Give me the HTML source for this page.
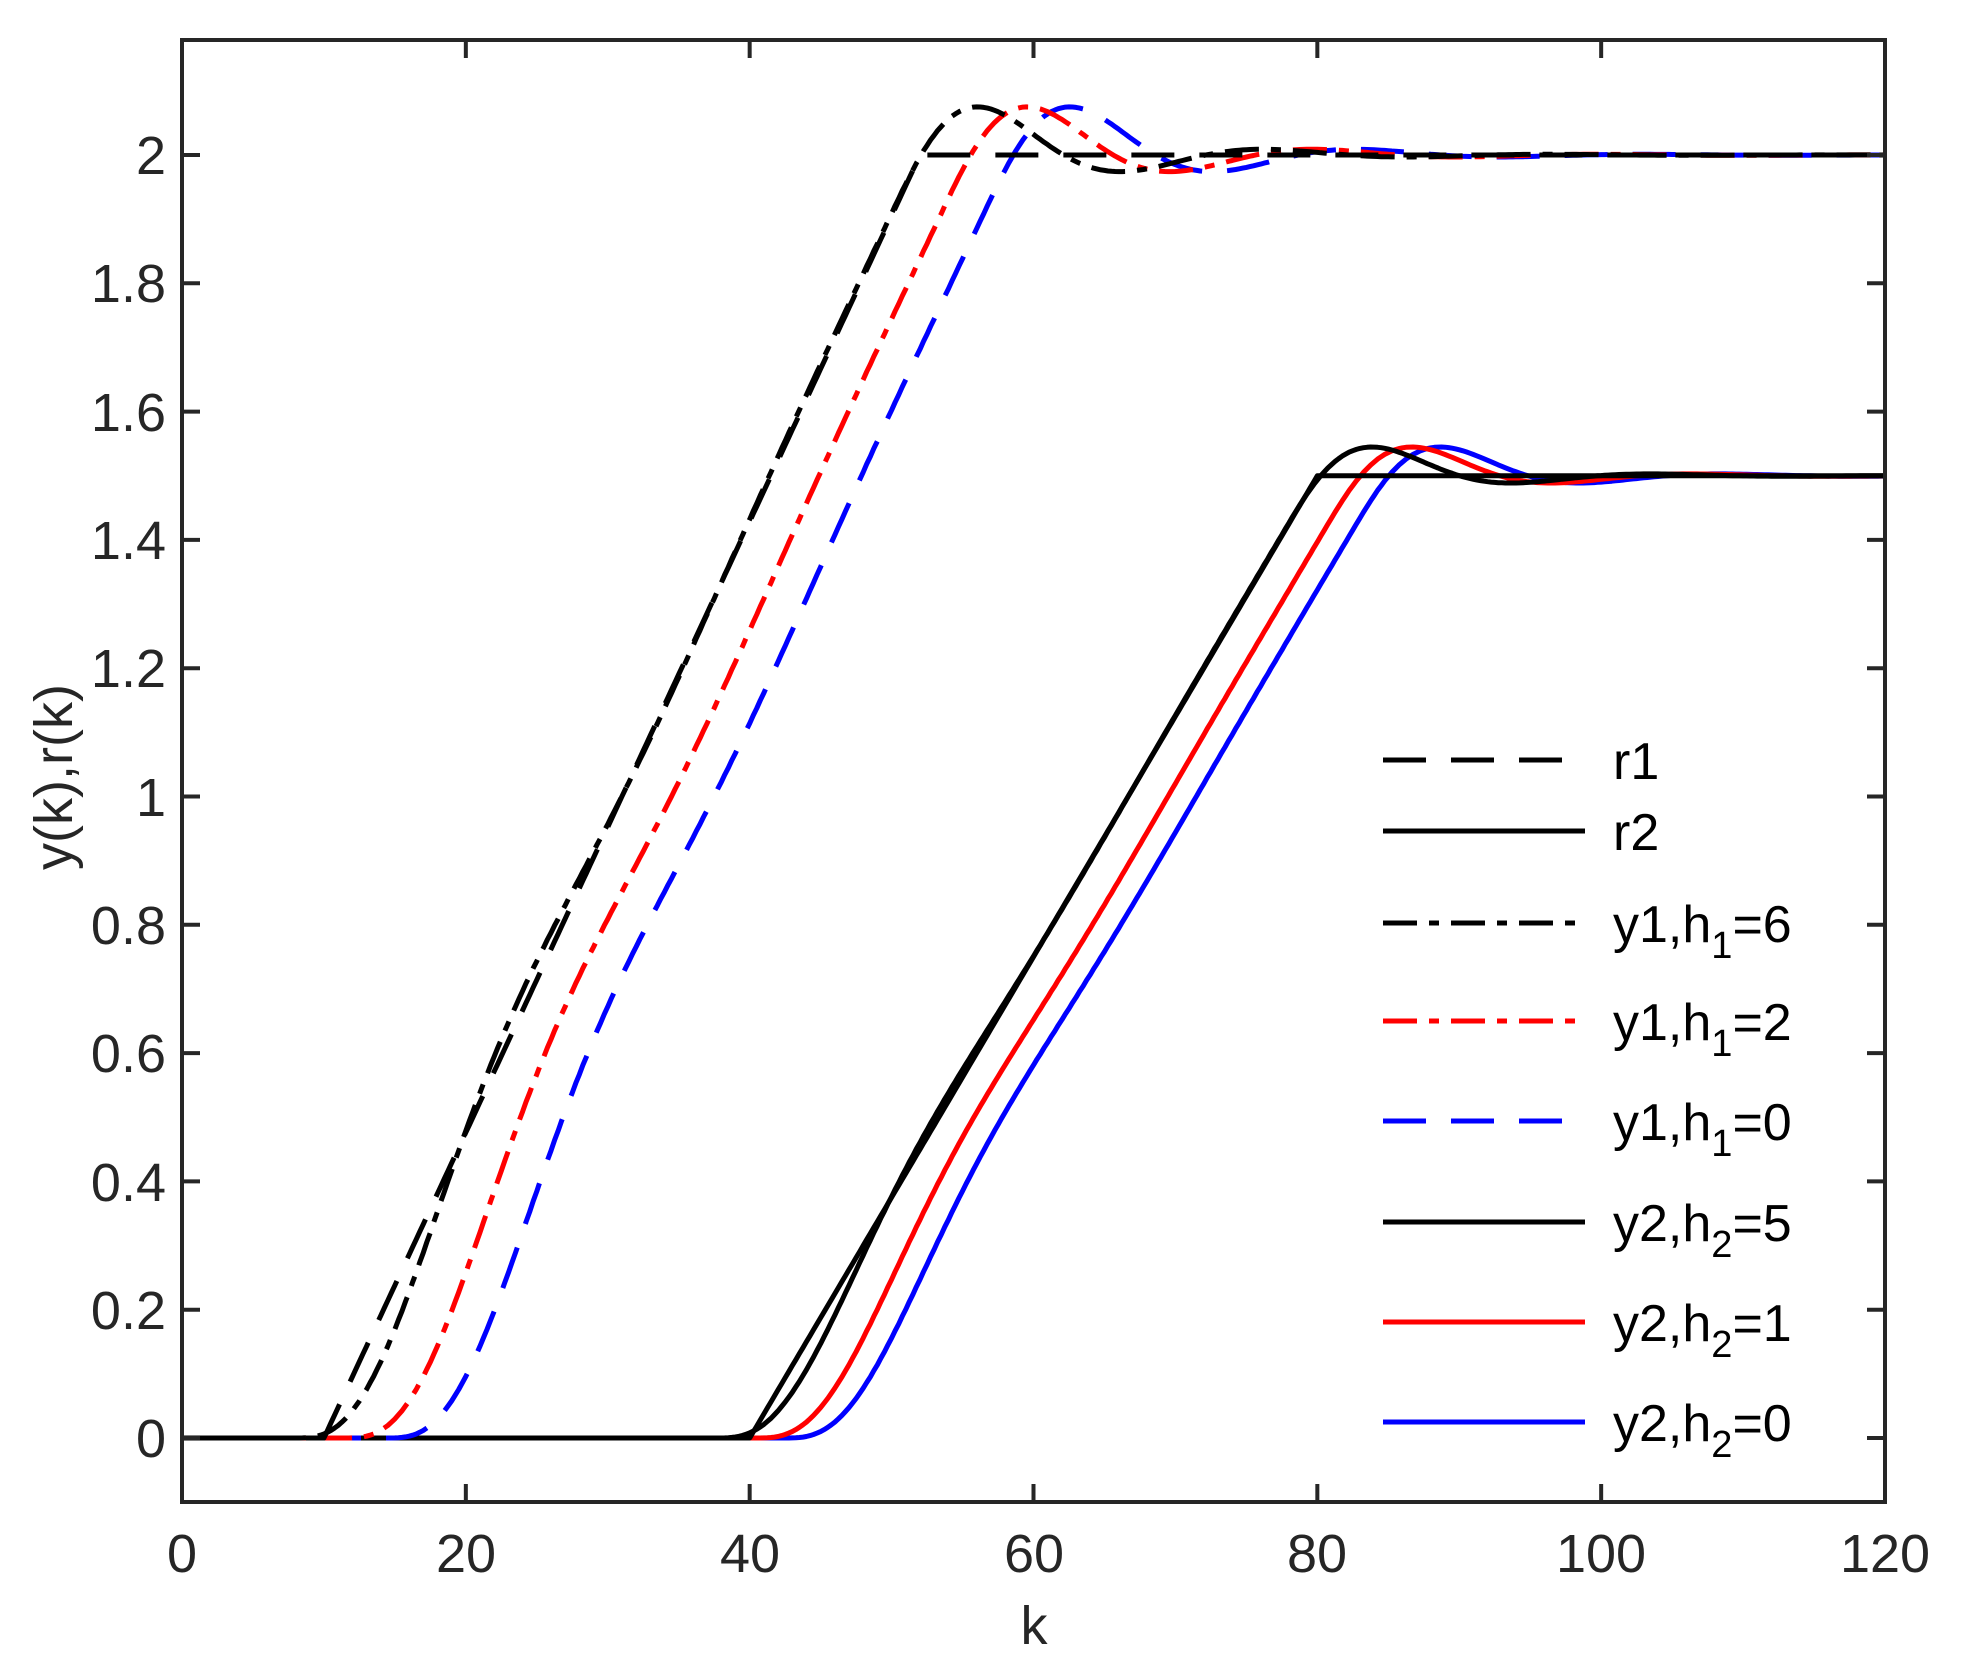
<!DOCTYPE html>
<html><head><meta charset="utf-8"><style>
body{margin:0;background:#fff}
svg text{font-family:"Liberation Sans",Arial,sans-serif;fill:#262626}
</style></head><body>
<svg id="s" width="1963" height="1665" viewBox="0 0 1963 1665" xmlns="http://www.w3.org/2000/svg">
<rect width="1963" height="1665" fill="#fff"/>
<g id="curves" fill="none" stroke-width="5" stroke-linejoin="round"></g>
<g id="axes" stroke="#262626" stroke-width="4" fill="none"></g>
<g font-size="54" text-anchor="end" id="ylab">
<text x="166" y="1457">0</text>
<text x="166" y="1329">0.2</text>
<text x="166" y="1201">0.4</text>
<text x="166" y="1072">0.6</text>
<text x="166" y="944">0.8</text>
<text x="166" y="816">1</text>
<text x="166" y="687">1.2</text>
<text x="166" y="559">1.4</text>
<text x="166" y="431">1.6</text>
<text x="166" y="302">1.8</text>
<text x="166" y="174">2</text>
</g>
<g font-size="54" text-anchor="middle">
<text x="182" y="1572">0</text>
<text x="466" y="1572">20</text>
<text x="750" y="1572">40</text>
<text x="1034" y="1572">60</text>
<text x="1317" y="1572">80</text>
<text x="1601" y="1572">100</text>
<text x="1885" y="1572">120</text>
<text x="1034" y="1644">k</text>
<text transform="translate(72,777) rotate(-90)">y(k),r(k)</text>
</g>
<g font-size="52">
<text x="1613" y="779" style="fill:#000">r1</text>
<text x="1613" y="850" style="fill:#000">r2</text>
<text x="1613" y="942" style="fill:#000">y1,h<tspan font-size="38" dy="16">1</tspan><tspan dy="-16">=6</tspan></text>
<text x="1613" y="1040" style="fill:#000">y1,h<tspan font-size="38" dy="16">1</tspan><tspan dy="-16">=2</tspan></text>
<text x="1613" y="1140" style="fill:#000">y1,h<tspan font-size="38" dy="16">1</tspan><tspan dy="-16">=0</tspan></text>
<text x="1613" y="1241" style="fill:#000">y2,h<tspan font-size="38" dy="16">2</tspan><tspan dy="-16">=5</tspan></text>
<text x="1613" y="1341" style="fill:#000">y2,h<tspan font-size="38" dy="16">2</tspan><tspan dy="-16">=1</tspan></text>
<text x="1613" y="1441" style="fill:#000">y2,h<tspan font-size="38" dy="16">2</tspan><tspan dy="-16">=0</tspan></text>
</g>
<g stroke-width="5">
<line x1="1383" y1="760" x2="1585" y2="760" stroke="#000" stroke-dasharray="43 25"/>
<line x1="1383" y1="831" x2="1585" y2="831" stroke="#000"/>
<line x1="1383" y1="923" x2="1585" y2="923" stroke="#000" stroke-dasharray="34 12 10 12"/>
<line x1="1383" y1="1021" x2="1585" y2="1021" stroke="#f00" stroke-dasharray="34 12 10 12"/>
<line x1="1383" y1="1121" x2="1585" y2="1121" stroke="#00f" stroke-dasharray="43 25"/>
<line x1="1383" y1="1222" x2="1585" y2="1222" stroke="#000"/>
<line x1="1383" y1="1322" x2="1585" y2="1322" stroke="#f00"/>
<line x1="1383" y1="1422" x2="1585" y2="1422" stroke="#00f"/>
</g>
</svg>
<script>
var X0=182,X1=1885,Y0=1438,PU=641.5;
function px(k){return X0+k*(X1-X0)/120}
function py(v){return Y0-v*PU}
var NS="http://www.w3.org/2000/svg";
var ax=document.getElementById('axes');
function el(p,a){var e=document.createElementNS(NS,p);for(var k in a)e.setAttribute(k,a[k]);return e}
ax.appendChild(el('rect',{x:X0,y:40,width:X1-X0,height:1502-40}));
for(var k=0;k<=120;k+=20){ax.appendChild(el('line',{x1:px(k),y1:1502,x2:px(k),y2:1484}));ax.appendChild(el('line',{x1:px(k),y1:40,x2:px(k),y2:58}));}
for(var i=0;i<=10;i++){var y=py(i*0.2);ax.appendChild(el('line',{x1:X0,y1:y,x2:X0+18,y2:y}));ax.appendChild(el('line',{x1:X1,y1:y,x2:X1-18,y2:y}));}
function ramp(t,a,b,v){return t<a?0:(t>b?v:v*(t-a)/(b-a))}
function filt(rf,w,z){var dt=0.02,x=0,v=0,out=[];for(var t=-20;t<=160;t+=dt){var r=rf(t);var acc=w*w*(r-x)-2*z*w*v;v+=acc*dt;x+=v*dt;out.push([t,x]);}
 return function(t){var i=Math.round((t+20)/dt);if(i<0)i=0;if(i>=out.length)i=out.length-1;return out[i][1];}}
var g=document.getElementById('curves');
function path(f,col,dash){var d='';for(var k=0;k<=120;k+=0.25){d+=(k?'L':'M')+px(k).toFixed(1)+' '+py(f(k)).toFixed(1);}
 var a={d:d,stroke:col};if(dash)a['stroke-dasharray']=dash;g.appendChild(el('path',a));}
var r1=function(t){return ramp(t,10,52,2)}, r2=function(t){return ramp(t,40,80,1.5)};
var F1=filt(r1,0.33,0.32), F2=filt(r2,0.35,0.4);
path(function(k){return F2(k-2.5)},'#00f');
path(function(k){return F2(k-0.5)},'#f00');
path(function(k){return F2(k+2.3)},'#000');
path(r2,'#000');
path(function(k){return F1(k-4.5)},'#00f','43 25');
path(function(k){return F1(k-1.5)},'#f00','34 12 10 12');
path(function(k){return F1(k+2)},'#000','34 12 10 12');
path(r1,'#000','43 25');
</script>
</body></html>
